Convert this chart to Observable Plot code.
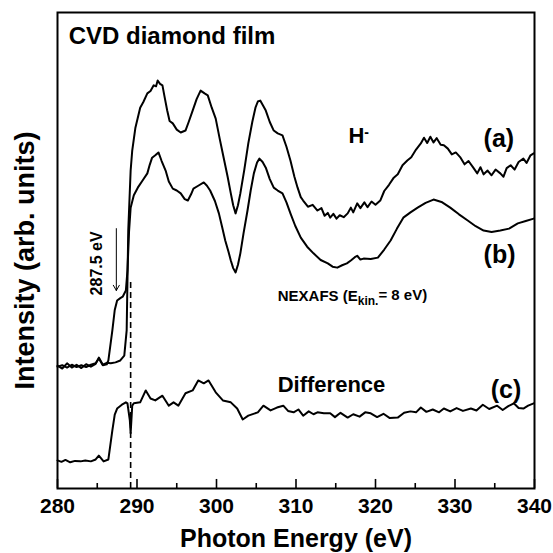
<!DOCTYPE html>
<html>
<head>
<meta charset="utf-8">
<script src="https://cdn.jsdelivr.net/npm/d3@7"></script>
<script src="https://cdn.jsdelivr.net/npm/@observablehq/plot@0.6"></script>
<style>
  html, body { margin: 0; padding: 0; background: #fff; }
  svg { font-family: "Liberation Sans", Arial, sans-serif; font-weight: bold; }
</style>
</head>
<body>
<div id="chart"></div>
<script>
// ---- data ----
const energyA = [280.0,280.6,281.2,281.8,282.4,283.0,283.6,284.2,284.8,285.2,285.7,286.2,286.7,287.3,287.9,288.4,288.7,288.9,289.2,289.4,289.8,290.4,290.8,291.3,291.7,292.1,292.4,292.6,292.9,293.2,293.5,293.8,294.1,294.5,295.0,295.5,296.1,296.5,297.0,297.5,298.0,298.5,298.9,299.4,299.9,300.4,300.9,301.4,301.8,302.1,302.4,302.7,303.0,303.5,304.0,304.5,304.9,305.2,305.5,305.8,306.2,306.7,307.2,307.7,308.3,308.8,309.3,309.8,310.2,310.6,310.9,311.5,312.1,312.7,313.2,313.6,314.0,314.3,314.7,315.1,315.5,316.0,316.5,316.9,317.2,317.7,318.1,318.6,319.0,319.5,320.0,320.6,321.1,321.7,322.3,322.8,323.4,324.0,324.5,325.1,325.7,326.1,326.5,326.9,327.3,327.7,328.2,328.6,329.1,329.6,330.1,330.7,331.2,331.7,332.3,332.8,333.2,333.6,334.1,334.6,335.1,335.7,336.1,336.5,337.0,337.5,338.0,338.6,339.0,339.5,339.9];
const intensityA = [25.8,25.2,26.3,25.4,26.0,25.3,26.1,25.6,26.2,27.5,26.0,26.4,26.3,26.5,26.9,27.9,33.2,54.2,66.8,71.0,75.8,80.0,81.2,83.0,83.5,84.7,84.5,85.7,85.0,84.7,82.0,79.4,77.2,76.7,75.4,74.8,75.2,77.0,79.4,81.8,83.6,83.0,82.6,80.0,77.7,73.5,69.5,65.5,62.0,59.5,57.8,59.5,62.0,67.0,72.5,77.0,80.0,81.3,81.5,80.6,79.4,77.0,75.2,74.6,74.2,71.8,68.9,65.5,63.2,61.2,60.5,59.2,59.6,58.4,58.9,57.3,57.9,56.9,57.7,56.7,57.4,57.0,57.8,59.0,58.0,59.9,58.9,60.1,59.1,60.3,59.6,60.5,62.5,63.8,65.3,66.0,67.9,68.9,69.6,71.2,72.5,73.7,72.6,73.9,72.7,73.6,72.2,72.1,71.4,70.2,70.6,69.5,68.1,68.8,67.4,66.2,67.5,66.0,66.8,65.8,67.0,66.2,65.5,67.3,67.9,67.0,68.6,69.3,68.4,70.0,70.4];

const energyB = [280.0,280.6,281.2,281.8,282.4,283.0,283.6,284.2,284.8,285.2,285.7,286.2,286.4,286.9,287.2,287.5,287.9,288.2,288.6,288.8,289.0,289.2,289.6,290.1,290.7,291.3,291.6,291.9,292.3,292.7,293.1,293.6,294.0,294.5,295.0,295.5,296.0,296.4,296.8,297.1,297.7,298.4,298.8,299.2,299.8,300.3,300.7,301.1,301.5,301.8,302.1,302.4,302.7,303.0,303.4,303.9,304.3,304.7,305.1,305.4,305.8,306.2,306.7,307.2,307.7,308.3,308.8,309.3,309.9,310.6,311.4,312.2,313.1,314.0,314.6,315.2,315.8,316.4,316.9,317.4,317.7,318.1,318.5,319.4,320.3,321.1,321.9,322.7,323.5,324.4,325.3,326.3,327.3,328.3,329.4,330.5,331.6,332.6,333.6,334.6,335.7,336.8,337.9,338.9,339.9];
const intensityB = [25.6,25.9,25.4,26.0,25.5,25.9,25.5,26.0,26.3,27.3,25.9,26.1,26.9,33.2,37.5,39.5,40.0,40.3,41.6,45.8,54.0,59.0,61.6,63.2,64.7,66.2,68.0,69.5,70.0,70.6,68.8,66.8,64.5,63.0,62.6,62.0,60.8,60.5,61.8,63.0,63.6,64.3,63.6,62.6,60.4,57.8,55.0,52.1,49.8,47.9,46.3,45.4,47.0,49.4,53.6,58.4,62.6,66.2,68.5,69.3,68.6,67.4,65.0,63.2,62.6,62.0,60.1,57.8,55.2,52.7,50.8,49.4,48.0,47.3,46.6,46.4,46.9,47.3,47.9,48.6,48.9,48.1,48.3,48.2,48.5,50.2,52.1,54.6,56.9,58.0,59.0,60.0,60.7,60.2,59.0,57.6,56.3,55.1,54.2,53.9,54.2,54.6,55.7,56.2,56.7];

const energyC = [280.0,280.5,281.0,281.6,282.2,282.9,283.5,284.2,284.8,285.2,285.8,286.4,286.9,287.2,287.5,288.1,288.6,288.8,289.1,289.2,289.4,289.6,290.4,291.1,291.7,292.3,293.2,294.0,294.6,295.2,296.1,297.0,297.7,298.4,299.0,299.9,300.8,301.8,302.6,303.3,304.0,305.2,305.9,306.8,307.6,308.4,309.0,309.7,310.3,310.9,311.6,312.2,312.7,313.5,314.3,314.9,315.6,316.5,317.2,318.0,318.7,319.4,320.2,321.0,321.8,322.8,323.6,324.4,325.1,325.7,326.4,327.2,328.0,328.6,329.4,330.2,331.0,332.0,332.7,333.5,334.3,335.3,336.0,336.7,337.4,338.0,338.6,339.2,339.9];
const intensityC = [5.9,5.6,6.0,5.5,5.8,5.7,5.9,5.7,6.1,6.9,5.7,6.1,12.2,15.5,16.8,17.6,18.1,17.9,14.3,11.6,17.4,17.9,18.1,20.6,18.9,18.5,19.5,17.4,18.1,17.4,20.0,20.6,22.7,22.1,22.7,20.2,18.5,18.1,16.8,14.5,15.3,16.0,17.4,16.4,17.0,17.4,16.3,16.0,16.6,15.3,16.2,15.6,16.0,15.8,15.8,15.0,15.9,14.9,15.6,15.1,16.0,15.8,15.0,15.7,14.8,14.9,15.9,16.2,16.0,17.0,16.1,16.6,16.0,16.8,16.2,16.9,16.3,16.8,16.4,17.6,16.7,17.4,16.5,17.3,17.9,16.9,16.8,17.4,17.9];

const majorTicks = [280, 290, 300, 310, 320, 330, 340];
const minorTicks = [285, 295, 305, 315, 325, 335];
const xLabel = "Photon Energy (eV)";
const yLabel = "Intensity (arb. units)";
const title = "CVD diamond film";
const curveLabels = ["(a)", "(b)", "(c)"];
const edgeEnergy = 289.2;   // dashed marker
const preEdgeEnergy = 287.5; // arrow

const toRows = (xs, ys) => xs.map((x, i) => ({x, y: ys[i]}));
const rowsA = toRows(energyA, intensityA);
const rowsB = toRows(energyB, intensityB);
const rowsC = toRows(energyC, intensityC);

const chart = Plot.plot({
  width: 553,
  height: 553,
  marginLeft: 57,
  marginRight: 19,
  marginTop: 12,
  marginBottom: 65,
  style: {fontFamily: "'Liberation Sans', Arial, sans-serif", fontWeight: "bold", fontSize: "21px", color: "#000", background: "#fff", overflow: "visible"},
  x: {domain: [280, 340]},
  y: {domain: [0, 100], axis: null},
  marks: [
    Plot.axisX({ticks: majorTicks, tickSize: 0, tickPadding: 10, tickFormat: d => String(d), label: null, fontSize: 21}),
    // inward ticks
    Plot.ruleX(majorTicks, {x: d => d, y1: 0, y2: 1.9, stroke: "#000", strokeWidth: 1.6}),
    Plot.ruleX(minorTicks, {x: d => d, y1: 0, y2: 1.05, stroke: "#000", strokeWidth: 1.6}),
    Plot.frame({stroke: "#000", strokeWidth: 2}),
    Plot.ruleX([edgeEnergy], {y1: 0, y2: 43.3, stroke: "#000", strokeWidth: 1.6, strokeDasharray: "6,4"}),
    Plot.line(rowsA, {x: "x", y: "y", stroke: "#000", strokeWidth: 2}),
    Plot.line(rowsB, {x: "x", y: "y", stroke: "#000", strokeWidth: 2}),
    Plot.line(rowsC, {x: "x", y: "y", stroke: "#000", strokeWidth: 2}),
    Plot.arrow([preEdgeEnergy], {x1: 287.4, x2: 287.4, y1: 54.6, y2: 41.6, stroke: "#000", strokeWidth: 1, headLength: 9}),
    Plot.text([preEdgeEnergy + " eV"], {x: 284.9, y: 47.3, text: d => d, rotate: -90, fontSize: 16, fontWeight: "bold", textAnchor: "middle", lineAnchor: "middle"}),
    Plot.text([title], {x: 281.4, y: 94.9, text: d => d, fontSize: 24, textAnchor: "start", lineAnchor: "middle"}),
    Plot.text(["H"], {x: 316.6, y: 74.0, text: d => d, fontSize: 22, textAnchor: "start", lineAnchor: "middle", className: "hminus"}),
    Plot.text([curveLabels[0]], {x: 333.6, y: 73.5, text: d => d, fontSize: 25, textAnchor: "start", lineAnchor: "middle"}),
    Plot.text([curveLabels[1]], {x: 333.6, y: 49.0, text: d => d, fontSize: 25, textAnchor: "start", lineAnchor: "middle"}),
    Plot.text([curveLabels[2]], {x: 334.5, y: 20.6, text: d => d, fontSize: 25, textAnchor: "start", lineAnchor: "middle"}),
    Plot.text(["NEXAFS"], {x: 307.7, y: 40.5, text: d => d, fontSize: 15, textAnchor: "start", lineAnchor: "middle", className: "nexafs"}),
    Plot.text(["Difference"], {x: 307.7, y: 21.8, text: d => d, fontSize: 22, textAnchor: "start", lineAnchor: "middle"}),
    Plot.text([xLabel], {frameAnchor: "bottom", dy: 50, text: d => d, fontSize: 25, textAnchor: "middle", lineAnchor: "middle"}),
    Plot.text([yLabel], {frameAnchor: "left", dx: -32, dy: 10, rotate: -90, text: d => d, fontSize: 27, textAnchor: "middle", lineAnchor: "middle"})
  ]
});

// rich text: superscript / subscript
const svg = d3.select(chart);
svg.selectAll("g.hminus text").each(function() {
  const t = d3.select(this);
  t.text("H");
  t.append("tspan").attr("dy", "-0.45em").attr("font-size", "14").text("-");
});
svg.selectAll("g.nexafs text").each(function() {
  const t = d3.select(this);
  t.text("NEXAFS (E");
  t.append("tspan").attr("dy", "0.35em").attr("font-size", "12").text("kin.");
  t.append("tspan").attr("dy", "-0.3em").text("= 8 eV)");
});

document.getElementById("chart").appendChild(chart);
</script>
</body>
</html>
